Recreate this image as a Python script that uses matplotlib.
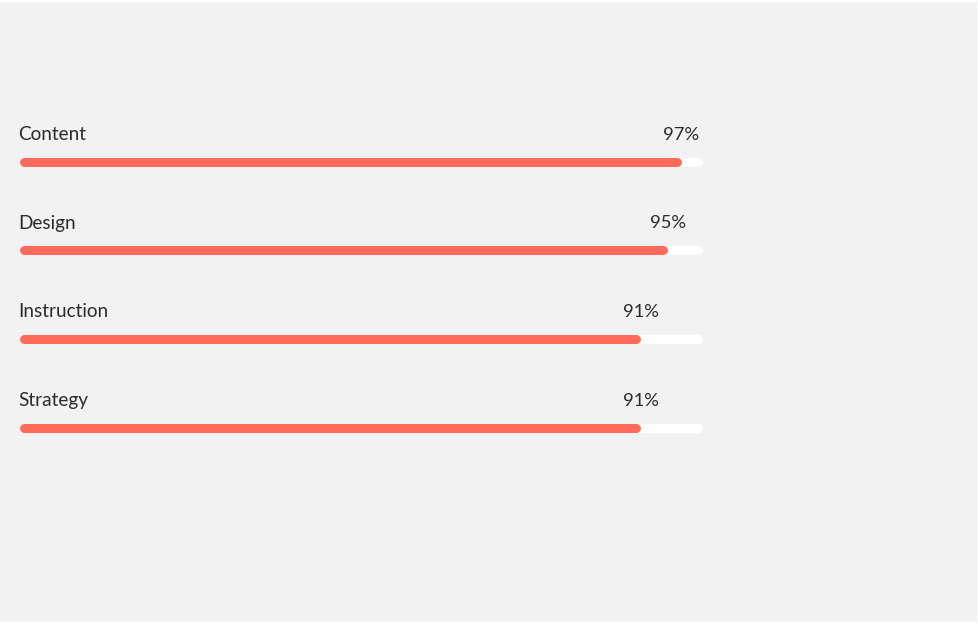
import matplotlib
matplotlib.use("Agg")
import matplotlib.pyplot as plt

plt.rcParams['font.family'] = ['Lato', 'DejaVu Sans']

categories = ["Content", "Design", "Instruction", "Strategy"]
values = [97, 95, 91, 91]
labels = ["97%", "95%", "91%", "91%"]

W, H, DPI = 979, 627, 100
BAR_COLOR = "#fe6b5a"
TRACK_COLOR = "#ffffff"
BG = "#f2f2f2"
TEXT = "#2b2b2b"

fig = plt.figure(figsize=(W / DPI, H / DPI), dpi=DPI)
fig.patch.set_facecolor("white")

# gray panel behind everything
bg = fig.add_axes([0, 5 / H, 977 / W, 620 / H])
bg.set_facecolor(BG)
bg.set_xticks([])
bg.set_yticks([])
for s in bg.spines.values():
    s.set_visible(False)

# chart axes: x 0..100 spans the track, y in pixel rows
left, width = 19, 684
ax = fig.add_axes([left / W, 0, width / W, 1])
ax.set_xlim(0, 100)
ax.set_ylim(H, 0)
ax.axis("off")

lw_px = 9
r = lw_px / 2 * 100 / width        # cap radius in data units
lw = lw_px * 72 / DPI
px = 100 / width                   # one pixel in data units

top, step = 161.5, 88.7
for i, (cat, v, lab) in enumerate(zip(categories, values, labels)):
    y = top + i * step
    ax.plot([r, 100 - r], [y, y], color=TRACK_COLOR, lw=lw, solid_capstyle="round")
    ax.plot([r, v - r - 0.2], [y, y], color=BAR_COLOR, lw=lw, solid_capstyle="round")
    ax.text(-0.1, y - 27, cat, ha="left", va="center", fontsize=13.7, color=TEXT)
    ax.text(v + 17 * px, y - 27, lab, ha="right", va="center", fontsize=13.2, color=TEXT)

fig.savefig("out.png", dpi=DPI, facecolor=fig.get_facecolor())
